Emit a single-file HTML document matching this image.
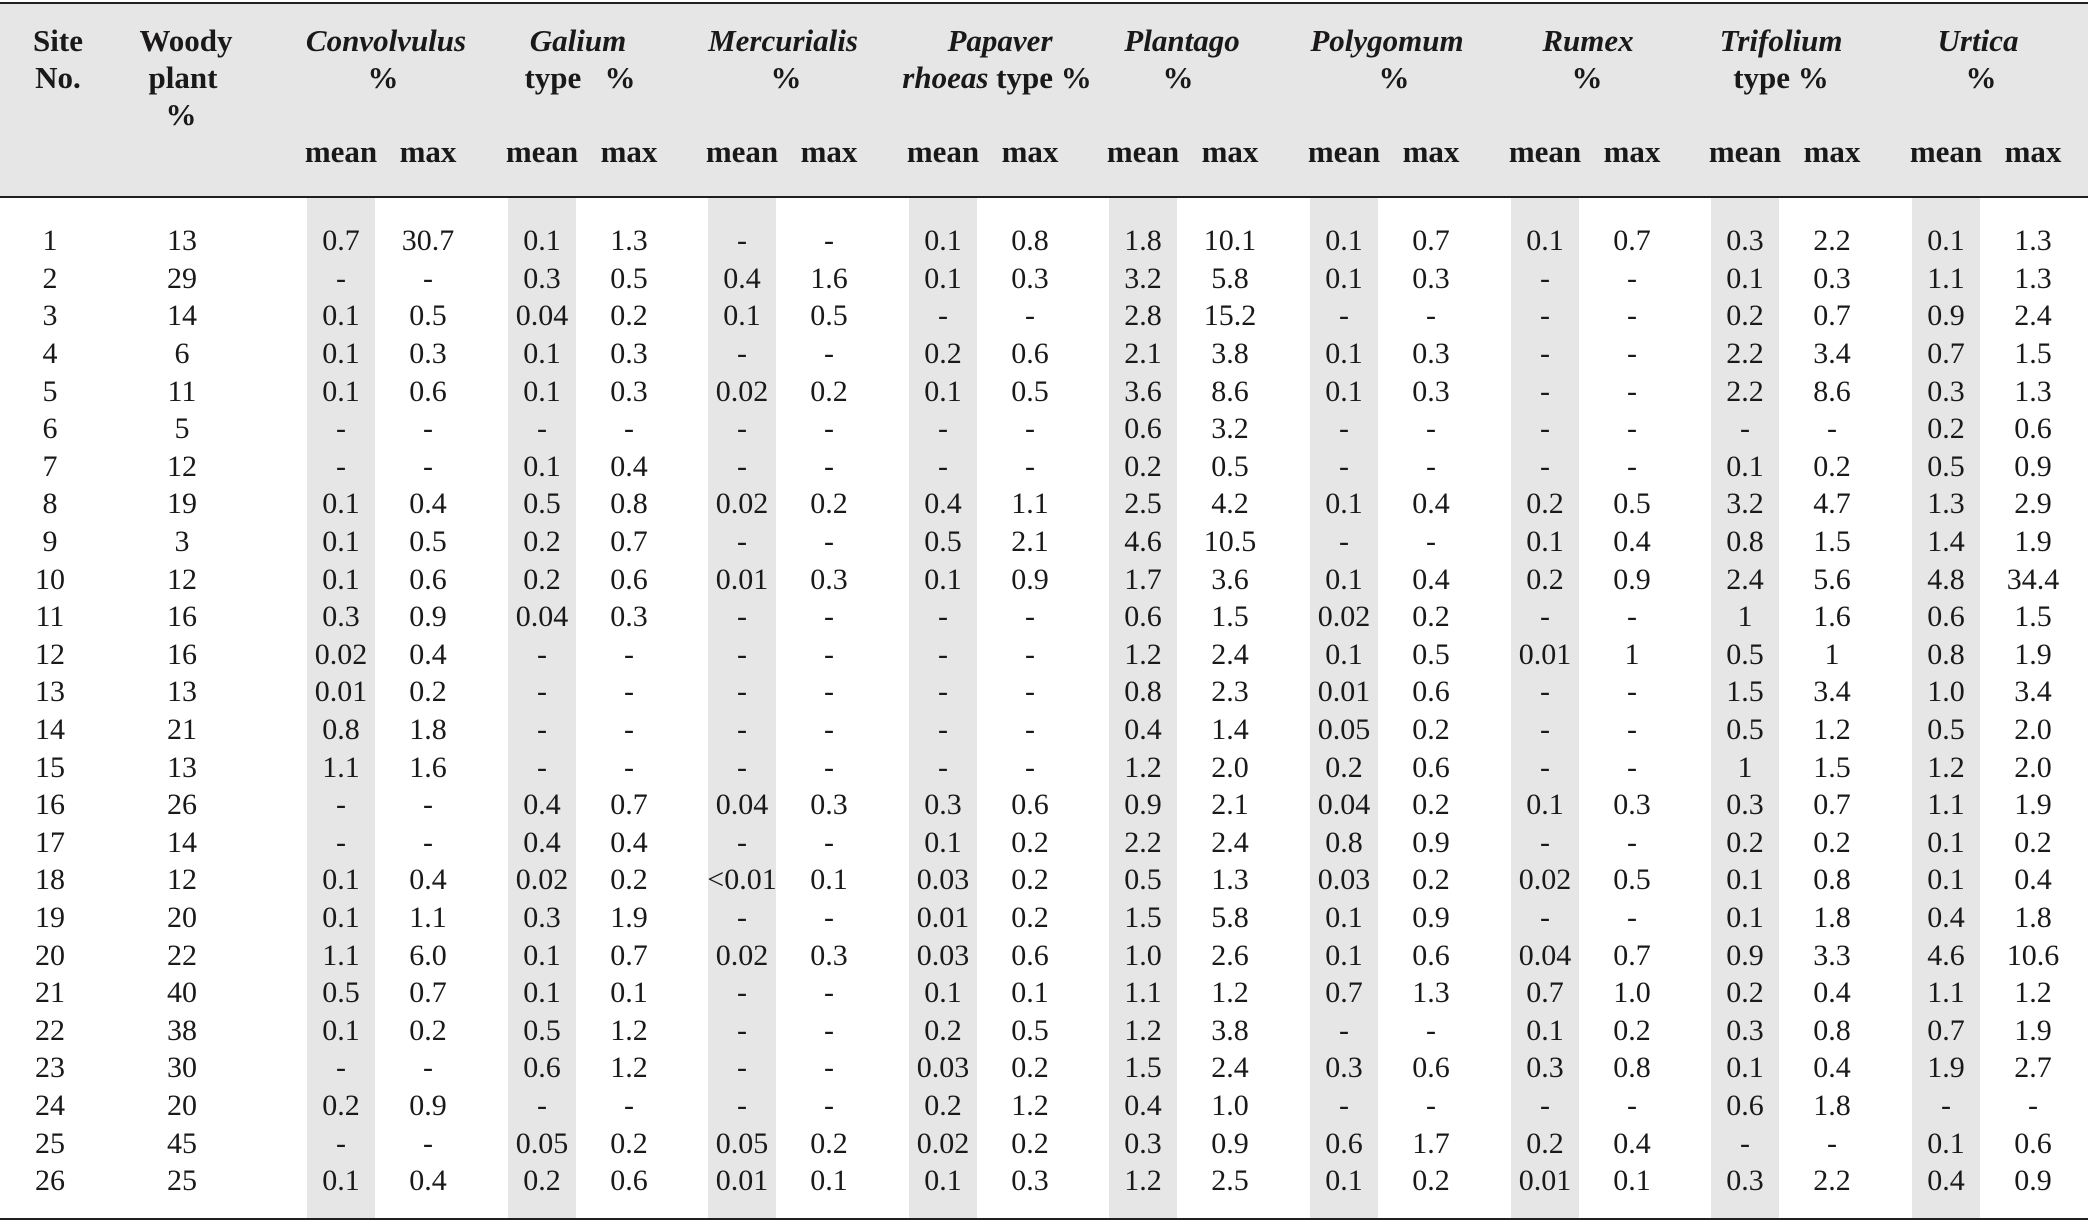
<!DOCTYPE html>
<html><head><meta charset="utf-8">
<style>
*{margin:0;padding:0;box-sizing:border-box}
html,body{width:2088px;height:1224px;overflow:hidden;background:#fff}
body{position:relative;font-family:"Liberation Serif",serif;color:#1a1819}
.line{position:absolute;left:0;width:2088px;height:2px;background:#231f20}
.hbg{position:absolute;left:0;top:4px;width:2088px;height:192px;background:#e6e6e6}
.band{position:absolute;top:198px;height:1020px;width:68px;background:#e6e6e6}
.h{position:absolute;font-weight:bold;font-size:31px;line-height:37px;height:37px;text-align:center;width:240px;white-space:nowrap}
.h i{font-style:italic}
.r{position:absolute;left:0;width:2088px;height:37.6px;line-height:37.6px;font-size:30px}
.r span{position:absolute;top:0;width:90px;text-align:center;white-space:nowrap}
.r span:nth-child(1){left:5px}
.r span:nth-child(2){left:137px}
.r span:nth-child(3){left:296px}
.r span:nth-child(4){left:383px}
.r span:nth-child(5){left:497px}
.r span:nth-child(6){left:584px}
.r span:nth-child(7){left:697px}
.r span:nth-child(8){left:784px}
.r span:nth-child(9){left:898px}
.r span:nth-child(10){left:985px}
.r span:nth-child(11){left:1098px}
.r span:nth-child(12){left:1185px}
.r span:nth-child(13){left:1299px}
.r span:nth-child(14){left:1386px}
.r span:nth-child(15){left:1500px}
.r span:nth-child(16){left:1587px}
.r span:nth-child(17){left:1700px}
.r span:nth-child(18){left:1787px}
.r span:nth-child(19){left:1901px}
.r span:nth-child(20){left:1988px}
</style></head><body>
<div class="hbg"></div>
<div class="line" style="top:2px"></div>
<div class="line" style="top:196px"></div>
<div class="line" style="top:1218px"></div>

<div class="band" style="left:307px"></div>
<div class="band" style="left:508px"></div>
<div class="band" style="left:708px"></div>
<div class="band" style="left:909px"></div>
<div class="band" style="left:1109px"></div>
<div class="band" style="left:1310px"></div>
<div class="band" style="left:1511px"></div>
<div class="band" style="left:1711px"></div>
<div class="band" style="left:1912px"></div>

<!-- header -->
<div class="h" style="left:-62px;top:22px">Site</div>
<div class="h" style="left:-62px;top:59px">No.</div>
<div class="h" style="left:66px;top:22px">Woody</div>
<div class="h" style="left:63px;top:59px">plant</div>
<div class="h" style="left:61px;top:96px">%</div>

<div class="h" style="left:266px;top:22px"><i>Convolvulus</i></div>
<div class="h" style="left:263px;top:59px">%</div>
<div class="h" style="left:458px;top:22px"><i>Galium</i></div>
<div class="h" style="left:460px;top:59px">type&nbsp;&nbsp;&nbsp;%</div>
<div class="h" style="left:663px;top:22px"><i>Mercurialis</i></div>
<div class="h" style="left:666px;top:59px">%</div>
<div class="h" style="left:880px;top:22px"><i>Papaver</i></div>
<div class="h" style="left:877px;top:59px"><i>rhoeas</i> type %</div>
<div class="h" style="left:1062px;top:22px"><i>Plantago</i></div>
<div class="h" style="left:1058px;top:59px">%</div>
<div class="h" style="left:1267px;top:22px"><i>Polygomum</i></div>
<div class="h" style="left:1274px;top:59px">%</div>
<div class="h" style="left:1468px;top:22px"><i>Rumex</i></div>
<div class="h" style="left:1467px;top:59px">%</div>
<div class="h" style="left:1661px;top:22px"><i>Trifolium</i></div>
<div class="h" style="left:1661px;top:59px">type %</div>
<div class="h" style="left:1858px;top:22px"><i>Urtica</i></div>
<div class="h" style="left:1861px;top:59px">%</div>

<div class="h" style="left:221px;top:133px">mean</div>
<div class="h" style="left:308px;top:133px">max</div>
<div class="h" style="left:422px;top:133px">mean</div>
<div class="h" style="left:509px;top:133px">max</div>
<div class="h" style="left:622px;top:133px">mean</div>
<div class="h" style="left:709px;top:133px">max</div>
<div class="h" style="left:823px;top:133px">mean</div>
<div class="h" style="left:910px;top:133px">max</div>
<div class="h" style="left:1023px;top:133px">mean</div>
<div class="h" style="left:1110px;top:133px">max</div>
<div class="h" style="left:1224px;top:133px">mean</div>
<div class="h" style="left:1311px;top:133px">max</div>
<div class="h" style="left:1425px;top:133px">mean</div>
<div class="h" style="left:1512px;top:133px">max</div>
<div class="h" style="left:1625px;top:133px">mean</div>
<div class="h" style="left:1712px;top:133px">max</div>
<div class="h" style="left:1826px;top:133px">mean</div>
<div class="h" style="left:1913px;top:133px">max</div>

<!-- data -->
<div class="r" style="top:222.1px"><span>1</span><span>13</span><span>0.7</span><span>30.7</span><span>0.1</span><span>1.3</span><span>-</span><span>-</span><span>0.1</span><span>0.8</span><span>1.8</span><span>10.1</span><span>0.1</span><span>0.7</span><span>0.1</span><span>0.7</span><span>0.3</span><span>2.2</span><span>0.1</span><span>1.3</span></div>
<div class="r" style="top:259.7px"><span>2</span><span>29</span><span>-</span><span>-</span><span>0.3</span><span>0.5</span><span>0.4</span><span>1.6</span><span>0.1</span><span>0.3</span><span>3.2</span><span>5.8</span><span>0.1</span><span>0.3</span><span>-</span><span>-</span><span>0.1</span><span>0.3</span><span>1.1</span><span>1.3</span></div>
<div class="r" style="top:297.3px"><span>3</span><span>14</span><span>0.1</span><span>0.5</span><span>0.04</span><span>0.2</span><span>0.1</span><span>0.5</span><span>-</span><span>-</span><span>2.8</span><span>15.2</span><span>-</span><span>-</span><span>-</span><span>-</span><span>0.2</span><span>0.7</span><span>0.9</span><span>2.4</span></div>
<div class="r" style="top:334.9px"><span>4</span><span>6</span><span>0.1</span><span>0.3</span><span>0.1</span><span>0.3</span><span>-</span><span>-</span><span>0.2</span><span>0.6</span><span>2.1</span><span>3.8</span><span>0.1</span><span>0.3</span><span>-</span><span>-</span><span>2.2</span><span>3.4</span><span>0.7</span><span>1.5</span></div>
<div class="r" style="top:372.5px"><span>5</span><span>11</span><span>0.1</span><span>0.6</span><span>0.1</span><span>0.3</span><span>0.02</span><span>0.2</span><span>0.1</span><span>0.5</span><span>3.6</span><span>8.6</span><span>0.1</span><span>0.3</span><span>-</span><span>-</span><span>2.2</span><span>8.6</span><span>0.3</span><span>1.3</span></div>
<div class="r" style="top:410.1px"><span>6</span><span>5</span><span>-</span><span>-</span><span>-</span><span>-</span><span>-</span><span>-</span><span>-</span><span>-</span><span>0.6</span><span>3.2</span><span>-</span><span>-</span><span>-</span><span>-</span><span>-</span><span>-</span><span>0.2</span><span>0.6</span></div>
<div class="r" style="top:447.7px"><span>7</span><span>12</span><span>-</span><span>-</span><span>0.1</span><span>0.4</span><span>-</span><span>-</span><span>-</span><span>-</span><span>0.2</span><span>0.5</span><span>-</span><span>-</span><span>-</span><span>-</span><span>0.1</span><span>0.2</span><span>0.5</span><span>0.9</span></div>
<div class="r" style="top:485.3px"><span>8</span><span>19</span><span>0.1</span><span>0.4</span><span>0.5</span><span>0.8</span><span>0.02</span><span>0.2</span><span>0.4</span><span>1.1</span><span>2.5</span><span>4.2</span><span>0.1</span><span>0.4</span><span>0.2</span><span>0.5</span><span>3.2</span><span>4.7</span><span>1.3</span><span>2.9</span></div>
<div class="r" style="top:522.9px"><span>9</span><span>3</span><span>0.1</span><span>0.5</span><span>0.2</span><span>0.7</span><span>-</span><span>-</span><span>0.5</span><span>2.1</span><span>4.6</span><span>10.5</span><span>-</span><span>-</span><span>0.1</span><span>0.4</span><span>0.8</span><span>1.5</span><span>1.4</span><span>1.9</span></div>
<div class="r" style="top:560.5px"><span>10</span><span>12</span><span>0.1</span><span>0.6</span><span>0.2</span><span>0.6</span><span>0.01</span><span>0.3</span><span>0.1</span><span>0.9</span><span>1.7</span><span>3.6</span><span>0.1</span><span>0.4</span><span>0.2</span><span>0.9</span><span>2.4</span><span>5.6</span><span>4.8</span><span>34.4</span></div>
<div class="r" style="top:598.1px"><span>11</span><span>16</span><span>0.3</span><span>0.9</span><span>0.04</span><span>0.3</span><span>-</span><span>-</span><span>-</span><span>-</span><span>0.6</span><span>1.5</span><span>0.02</span><span>0.2</span><span>-</span><span>-</span><span>1</span><span>1.6</span><span>0.6</span><span>1.5</span></div>
<div class="r" style="top:635.7px"><span>12</span><span>16</span><span>0.02</span><span>0.4</span><span>-</span><span>-</span><span>-</span><span>-</span><span>-</span><span>-</span><span>1.2</span><span>2.4</span><span>0.1</span><span>0.5</span><span>0.01</span><span>1</span><span>0.5</span><span>1</span><span>0.8</span><span>1.9</span></div>
<div class="r" style="top:673.3px"><span>13</span><span>13</span><span>0.01</span><span>0.2</span><span>-</span><span>-</span><span>-</span><span>-</span><span>-</span><span>-</span><span>0.8</span><span>2.3</span><span>0.01</span><span>0.6</span><span>-</span><span>-</span><span>1.5</span><span>3.4</span><span>1.0</span><span>3.4</span></div>
<div class="r" style="top:710.9px"><span>14</span><span>21</span><span>0.8</span><span>1.8</span><span>-</span><span>-</span><span>-</span><span>-</span><span>-</span><span>-</span><span>0.4</span><span>1.4</span><span>0.05</span><span>0.2</span><span>-</span><span>-</span><span>0.5</span><span>1.2</span><span>0.5</span><span>2.0</span></div>
<div class="r" style="top:748.5px"><span>15</span><span>13</span><span>1.1</span><span>1.6</span><span>-</span><span>-</span><span>-</span><span>-</span><span>-</span><span>-</span><span>1.2</span><span>2.0</span><span>0.2</span><span>0.6</span><span>-</span><span>-</span><span>1</span><span>1.5</span><span>1.2</span><span>2.0</span></div>
<div class="r" style="top:786.1px"><span>16</span><span>26</span><span>-</span><span>-</span><span>0.4</span><span>0.7</span><span>0.04</span><span>0.3</span><span>0.3</span><span>0.6</span><span>0.9</span><span>2.1</span><span>0.04</span><span>0.2</span><span>0.1</span><span>0.3</span><span>0.3</span><span>0.7</span><span>1.1</span><span>1.9</span></div>
<div class="r" style="top:823.7px"><span>17</span><span>14</span><span>-</span><span>-</span><span>0.4</span><span>0.4</span><span>-</span><span>-</span><span>0.1</span><span>0.2</span><span>2.2</span><span>2.4</span><span>0.8</span><span>0.9</span><span>-</span><span>-</span><span>0.2</span><span>0.2</span><span>0.1</span><span>0.2</span></div>
<div class="r" style="top:861.3px"><span>18</span><span>12</span><span>0.1</span><span>0.4</span><span>0.02</span><span>0.2</span><span>&lt;0.01</span><span>0.1</span><span>0.03</span><span>0.2</span><span>0.5</span><span>1.3</span><span>0.03</span><span>0.2</span><span>0.02</span><span>0.5</span><span>0.1</span><span>0.8</span><span>0.1</span><span>0.4</span></div>
<div class="r" style="top:898.9px"><span>19</span><span>20</span><span>0.1</span><span>1.1</span><span>0.3</span><span>1.9</span><span>-</span><span>-</span><span>0.01</span><span>0.2</span><span>1.5</span><span>5.8</span><span>0.1</span><span>0.9</span><span>-</span><span>-</span><span>0.1</span><span>1.8</span><span>0.4</span><span>1.8</span></div>
<div class="r" style="top:936.5px"><span>20</span><span>22</span><span>1.1</span><span>6.0</span><span>0.1</span><span>0.7</span><span>0.02</span><span>0.3</span><span>0.03</span><span>0.6</span><span>1.0</span><span>2.6</span><span>0.1</span><span>0.6</span><span>0.04</span><span>0.7</span><span>0.9</span><span>3.3</span><span>4.6</span><span>10.6</span></div>
<div class="r" style="top:974.1px"><span>21</span><span>40</span><span>0.5</span><span>0.7</span><span>0.1</span><span>0.1</span><span>-</span><span>-</span><span>0.1</span><span>0.1</span><span>1.1</span><span>1.2</span><span>0.7</span><span>1.3</span><span>0.7</span><span>1.0</span><span>0.2</span><span>0.4</span><span>1.1</span><span>1.2</span></div>
<div class="r" style="top:1011.7px"><span>22</span><span>38</span><span>0.1</span><span>0.2</span><span>0.5</span><span>1.2</span><span>-</span><span>-</span><span>0.2</span><span>0.5</span><span>1.2</span><span>3.8</span><span>-</span><span>-</span><span>0.1</span><span>0.2</span><span>0.3</span><span>0.8</span><span>0.7</span><span>1.9</span></div>
<div class="r" style="top:1049.3px"><span>23</span><span>30</span><span>-</span><span>-</span><span>0.6</span><span>1.2</span><span>-</span><span>-</span><span>0.03</span><span>0.2</span><span>1.5</span><span>2.4</span><span>0.3</span><span>0.6</span><span>0.3</span><span>0.8</span><span>0.1</span><span>0.4</span><span>1.9</span><span>2.7</span></div>
<div class="r" style="top:1086.9px"><span>24</span><span>20</span><span>0.2</span><span>0.9</span><span>-</span><span>-</span><span>-</span><span>-</span><span>0.2</span><span>1.2</span><span>0.4</span><span>1.0</span><span>-</span><span>-</span><span>-</span><span>-</span><span>0.6</span><span>1.8</span><span>-</span><span>-</span></div>
<div class="r" style="top:1124.5px"><span>25</span><span>45</span><span>-</span><span>-</span><span>0.05</span><span>0.2</span><span>0.05</span><span>0.2</span><span>0.02</span><span>0.2</span><span>0.3</span><span>0.9</span><span>0.6</span><span>1.7</span><span>0.2</span><span>0.4</span><span>-</span><span>-</span><span>0.1</span><span>0.6</span></div>
<div class="r" style="top:1162.1px"><span>26</span><span>25</span><span>0.1</span><span>0.4</span><span>0.2</span><span>0.6</span><span>0.01</span><span>0.1</span><span>0.1</span><span>0.3</span><span>1.2</span><span>2.5</span><span>0.1</span><span>0.2</span><span>0.01</span><span>0.1</span><span>0.3</span><span>2.2</span><span>0.4</span><span>0.9</span></div>
</body></html>
